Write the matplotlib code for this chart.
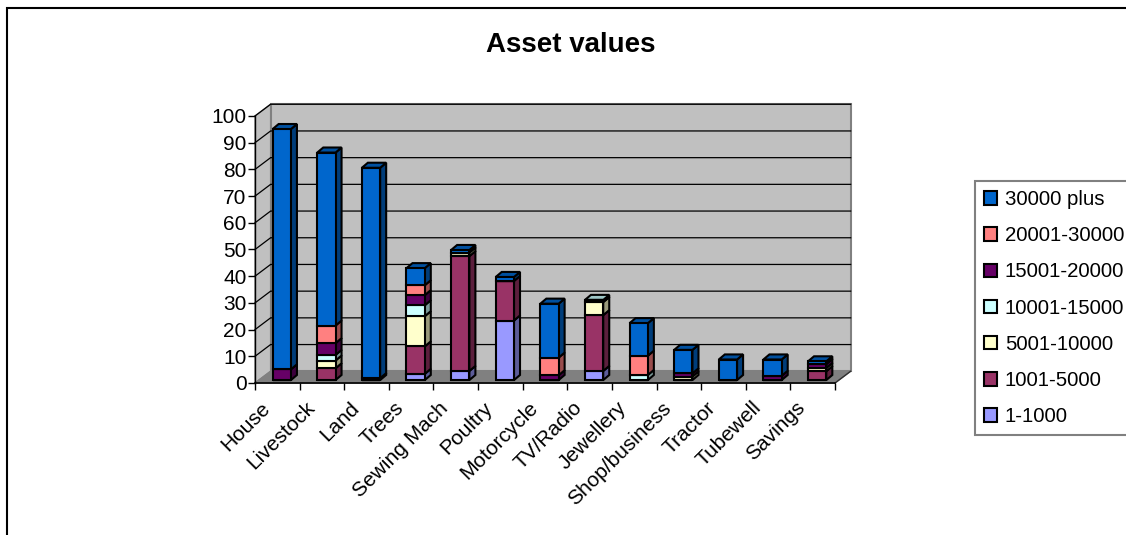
import numpy as np
import matplotlib
matplotlib.use('Agg')
import matplotlib.pyplot as plt
from matplotlib.colors import to_rgb
from matplotlib.patches import Patch, Polygon, Rectangle
from matplotlib.transforms import ScaledTranslation

plt.rcParams['font.family'] = ['Liberation Sans', 'DejaVu Sans']

categories = ['House', 'Livestock', 'Land', 'Trees', 'Sewing Mach', 'Poultry', 'Motorcycle',
              'TV/Radio', 'Jewellery', 'Shop/business', 'Tractor', 'Tubewell', 'Savings']

# stacked bottom to top
band_labels = ['1-1000', '1001-5000', '5001-10000', '10001-15000', '15001-20000', '20001-30000', '30000 plus']
band_colors = ['#9999FF', '#993366', '#FFFFCC', '#CCFFFF', '#660066', '#FF8080', '#0066CC']

v_1_1000 = [0, 0, 0, 2.3, 3.4, 22.3, 0, 3.4, 0, 0, 0, 0, 0]
v_1001_5000 = [0, 4.4, 0, 10.3, 43, 14.8, 0, 20.9, 0, 0, 0, 0, 3.3]
v_5001_10000 = [0, 2.9, 0, 11.3, 1.3, 0, 0, 4.9, 0, 1.3, 0, 0, 1.2]
v_10001_15000 = [0, 2.1, 0, 4.1, 0, 0, 0, 0.8, 1.9, 0, 0, 0, 0]
v_15001_20000 = [4, 4.4, 0.7, 3.8, 0, 0, 1.8, 0, 0, 1.2, 0, 1.6, 1.5]
v_20001_30000 = [0, 6.6, 0, 3.7, 0, 0, 6.6, 0, 7.2, 0, 0, 0, 0]
v_30000_plus = [90, 64.8, 78.8, 6.4, 1, 1.5, 20.2, 0, 12.2, 8.8, 7.7, 6.1, 1]
bands = [v_1_1000, v_1001_5000, v_5001_10000, v_10001_15000, v_15001_20000, v_20001_30000, v_30000_plus]

yticks = np.arange(0, 101, 10)

W, H = 1126, 535
WALL = '#C0C0C0'
FLOOR = '#808080'

fig = plt.figure(figsize=(W / 100, H / 100), dpi=100)
ax = fig.add_axes([255 / W, (H - 383) / H, 580 / W, 267 / H])
ax.set_xlim(-0.5, 12.5)
ax.set_ylim(0, 100)
ax.patch.set_visible(False)

# frame of the chart area runs off the right and bottom of the image
fig.add_artist(Rectangle((7 / W, -0.1), 1.2, 1 + 0.1 - 8 / H, transform=fig.transFigure,
                         facecolor='white', edgecolor='black', linewidth=1.5, zorder=-5))

# 3d box: depth in data units
dx, dy = 0.35, 4.4
x0, x1 = -0.5, 12.5


def face(points, color, edge, lw=1.0, z=1):
    ax.add_patch(Polygon(points, closed=True, facecolor=color, edgecolor=edge, linewidth=lw,
                         clip_on=False, zorder=z, joinstyle='miter'))


face([(x0 + dx, dy), (x1 + dx, dy), (x1 + dx, 100 + dy), (x0 + dx, 100 + dy)], WALL, FLOOR, 1.5)
face([(x0, 0), (x0 + dx, dy), (x0 + dx, 100 + dy), (x0, 100)], WALL, FLOOR, 1.0)
face([(x0, 0), (x1, 0), (x1 + dx, dy), (x0 + dx, dy)], FLOOR, FLOOR, 1.0)

for t in yticks[1:]:
    ax.plot([x0, x0 + dx, x1 + dx], [t, t + dy, t + dy], color='black', lw=0.9, clip_on=False, zorder=2)
ax.plot([x1, x1 + dx], [0, dy], color='#303030', lw=1.0, clip_on=False, zorder=2)

# bars
width = 0.41
off_x, off_y = 0.1, 1.1
side_x, side_y = 0.135, 1.9
edge_lw = 1.5
x = np.arange(len(categories))
bottoms = np.zeros(len(categories))
totals = np.sum(bands, axis=0)

for vals, col in zip(bands, band_colors):
    vals = np.array(vals, dtype=float)
    rgb = np.array(to_rgb(col))
    ax.bar(x + off_x, vals, width, bottom=bottoms + off_y, color=col, edgecolor='black',
           linewidth=edge_lw, zorder=4, clip_on=False)
    for i in x:
        if vals[i] == 0:
            continue
        r = i + off_x + width / 2
        l = i + off_x - width / 2
        b = bottoms[i] + off_y
        t = b + vals[i]
        face([(r, b), (r + side_x, b + side_y), (r + side_x, t + side_y), (r, t)],
             tuple(rgb * 0.6), 'black', edge_lw, 3)
        if abs(bottoms[i] + vals[i] - totals[i]) < 1e-6:
            face([(l, t), (r, t), (r + side_x, t + side_y), (l + side_x, t + side_y)],
                 tuple(rgb * 0.78), 'black', edge_lw, 3)
    bottoms += vals

# axes
for s in ['top', 'right']:
    ax.spines[s].set_visible(False)
ax.spines['left'].set_linewidth(1.0)
ax.spines['bottom'].set_linewidth(1.2)
ax.spines['left'].set_zorder(5)
ax.set_yticks(yticks)
ax.tick_params(axis='y', labelsize=15, length=5, width=1.0, pad=1)
ax.set_xticks(np.arange(14) - 0.5)
ax.set_xticklabels([])
ax.tick_params(axis='x', which='major', length=5, width=1.0)
ax.set_xticks(x, minor=True)
ax.set_xticklabels(categories, minor=True, rotation=45, ha='right', va='top',
                   rotation_mode='anchor', fontsize=15)
ax.tick_params(axis='x', which='minor', length=0, pad=11)
shift = ScaledTranslation(-17 / 100, 0, fig.dpi_scale_trans)
for lab in ax.get_xticklabels(minor=True):
    lab.set_transform(lab.get_transform() + shift)

fig.text(571 / W, (H - 45) / H, 'Asset values', ha='center', va='center', fontsize=20, fontweight='bold')

handles = [Patch(facecolor=c, edgecolor='black', linewidth=1.5, label=l)
           for c, l in zip(band_colors[::-1], band_labels[::-1])]
leg = fig.legend(handles=handles, loc='upper left', bbox_to_anchor=(975 / W, (H - 181) / H), borderaxespad=0,
                 fontsize=14.7, frameon=True, fancybox=False, framealpha=1, edgecolor='#808080',
                 handlelength=0.65, handleheight=0.65, handletextpad=0.36, borderpad=0.45,
                 labelspacing=0.84)
leg.get_frame().set_linewidth(1.5)

fig.savefig('out.png', dpi=100)
